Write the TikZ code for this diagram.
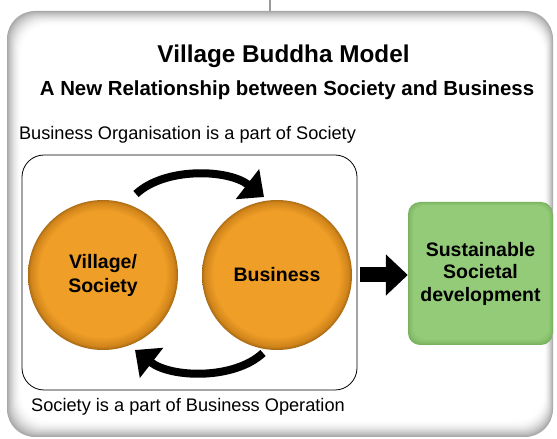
\documentclass[tikz,border=0pt]{standalone}
\usepackage{fontspec}
\setmainfont{Liberation Sans}
\usetikzlibrary{arrows.meta,calc}

\definecolor{orgA}{HTML}{EF9E27}
\definecolor{orgB}{HTML}{D0841A}
\definecolor{orgC}{HTML}{6E4208}
\definecolor{grnA}{HTML}{94CB79}
\definecolor{grnB}{HTML}{78B25E}

% orange disc with a dark rim, slightly heavier towards the lower right
\pgfdeclareradialshading{orangeball}{\pgfpoint{-0.8bp}{1.2bp}}{%
  color(0bp)=(orgA); color(21bp)=(orgA); color(24bp)=(orgB);
  color(26.5bp)=(orgC); color(30bp)=(orgC)}

\begin{document}
\begin{tikzpicture}[x=1pt,y=1pt,
  ball/.style={circle, minimum size=150pt, inner sep=0pt, shading=orangeball,
    font=\bfseries\fontsize{19.5}{24}\selectfont, align=center},
  greenbox/.style={rounded corners=12pt, minimum width=145pt, minimum height=143pt,
    inner sep=0pt, align=center, font=\bfseries\fontsize{19.5}{22.5}\selectfont,
    path picture={
      \foreach \i in {0,...,6}{
        \pgfmathsetmacro\k{100*(\i/6)^0.7}
        \fill[grnA!\k!grnB, rounded corners=12pt]
          ([shift={(\i*0.9,\i*1.0)}]path picture bounding box.south west) rectangle
          ([shift={(-\i*0.7,-\i*0.6)}]path picture bounding box.north east);
      }}},
  frame/.style={draw, line width=0.8pt, rounded corners=22pt, inner sep=0pt},
  curvy/.style={line width=8pt, -{Triangle[length=21pt,width=37pt]}},
  blockarrow/.style={line width=15pt, -{Triangle[length=22pt,width=40pt]}},
  body/.style={font=\fontsize{18.2}{22}\selectfont, anchor=base},
]
\useasboundingbox (0,0) rectangle (557,439);

% panel with a soft grey inner edge
\foreach \i in {0,...,18}{
  \pgfmathsetmacro\k{34*(1-\i/18)^1.8}
  \fill[black!\k, rounded corners=28pt]
    (7+\i*0.8, 2+\i*0.9) rectangle (553-\i*0.5, 428-\i*0.8);
}
\coordinate (feed) at (270,439);
\coordinate (paneltop) at (270,428);
\draw[black!40, line width=1.5pt] (feed) -- (paneltop);

% headings
\node[font=\bfseries\fontsize{24.3}{28}\selectfont, anchor=base] (title) at (283.5,376)
  {Village Buddha Model};
\node[font=\bfseries\fontsize{20.4}{24}\selectfont, anchor=base] (subtitle) at (287,343)
  {A New Relationship between Society and Business};

% frame around the two circles
\node[frame, minimum width=335pt, minimum height=235pt] (box) at (189.5,166.5) {};
\node[body] (toptext) at (187.5,299) {Business Organisation is a part of Society};
\node[body] (bottext) at (188,27) {Society is a part of Business Operation};

% circles
\node[ball] (lc) at (103,164) {Village/\\Society};
\node[ball] (rc) at (277,164) {Business};

% outcome box
\node[greenbox] (sd) at (480.5,165.5) {Sustainable\\Societal\\development};

% cycle arrows
\draw[curvy] ($(lc)+(33,81)$) .. controls ($(lc)+(62,108)$) and ($(rc)+(-49,106)$) .. ($(rc)+(-13,78)$);
\draw[curvy] ($(rc)+(-14,-78)$) .. controls ($(rc)+(-43,-105)$) and ($(lc)+(68,-103)$) .. ($(lc)+(32,-75)$);

% block arrow to the outcome
\draw[blockarrow] ($(rc.east)+(8,0)$) -- (rc.east -| sd.west);
\end{tikzpicture}
\end{document}
